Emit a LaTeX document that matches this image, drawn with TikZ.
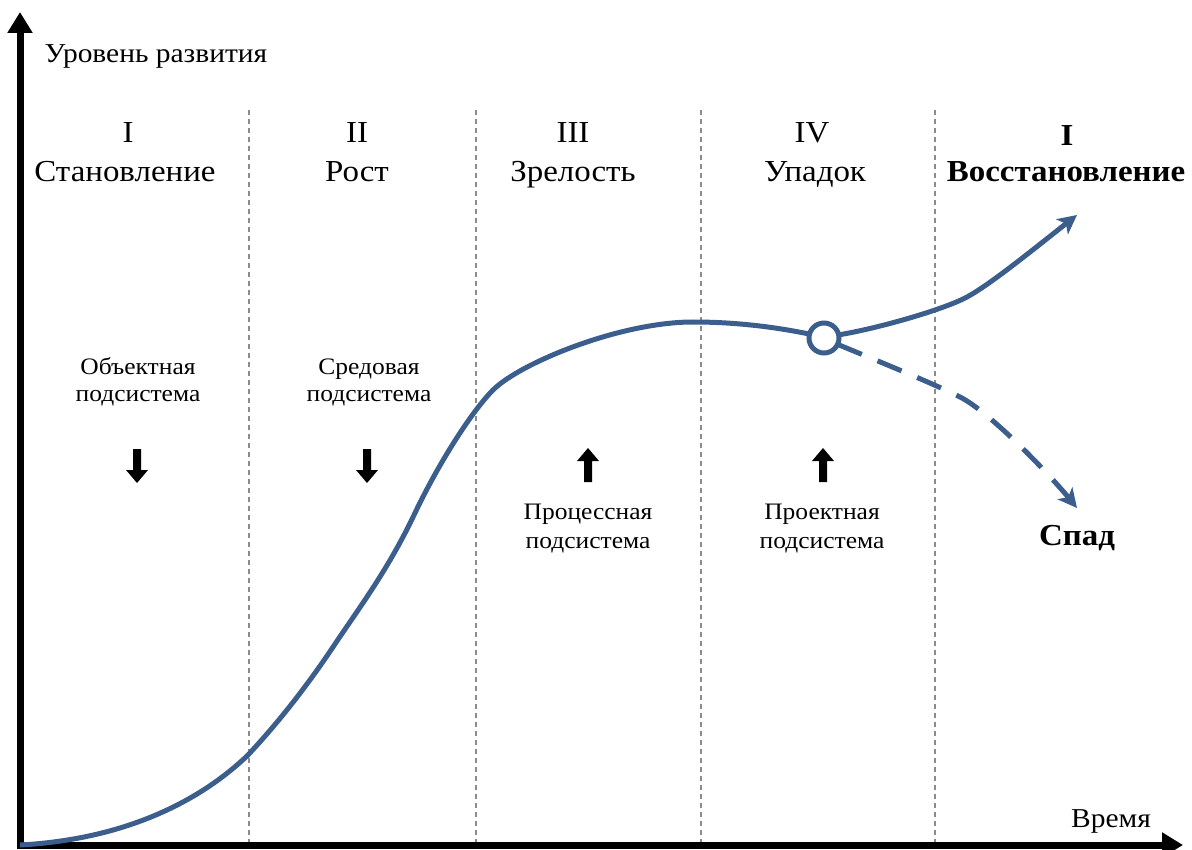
\documentclass[tikz,border=0pt]{standalone}
\usepackage{fontspec}
\setmainfont{Liberation Serif}
\newfontfamily\widefont[FakeStretch=1.08]{Liberation Serif}
\usetikzlibrary{arrows.meta}
\definecolor{curveblue}{RGB}{59,94,140}
\definecolor{gridgray}{RGB}{140,140,140}
\tikzset{
  axisline/.style={line width=7pt, line join=miter,
    {Triangle[length=21pt,width=24pt]}-{Triangle[length=21pt,width=24pt]}},
  stagesep/.style={gridgray, line width=1.3pt, dash pattern=on 5pt off 4pt},
  curve/.style={curveblue, line width=5pt, line cap=butt},
  curvetip/.style={-{Stealth[length=19pt,width=19pt,inset=5pt]}},
  axislabel/.style={anchor=base, inner sep=0pt, font=\widefont\fontsize{27.3}{32}\selectfont},
  stagelabel/.style={anchor=base, inner sep=0pt, font=\widefont\fontsize{30.5}{36}\selectfont},
  stagebold/.style={anchor=base, inner sep=0pt, font=\widefont\fontsize{30.5}{36}\selectfont\bfseries},
  sublabel/.style={anchor=base, inner sep=0pt, font=\widefont\fontsize{23.6}{28}\selectfont},
  downarrow/.pic={\fill (-4,-17) -- (4,-17) -- (4,4) -- (11,4) -- (0,17) -- (-11,4) -- (-4,4) -- cycle;},
  uparrow/.pic={\fill (-4,17) -- (4,17) -- (4,-4) -- (11,-4) -- (0,-17) -- (-11,-4) -- (-4,-4) -- cycle;}
}
\begin{document}
\begin{tikzpicture}[x=1pt,y=-1pt]
\useasboundingbox (0,0) rectangle (1192,850);

% stage boundaries
\foreach \sx/\nm in {249/a,476/b,701/c,935/d}{
  \coordinate (sep\nm top) at (\sx,110);
  \coordinate (sep\nm bot) at (\sx,842);
  \draw[stagesep] (sep\nm top) -- (sep\nm bot);
}

% axes
\coordinate (ytop) at (20,12);
\coordinate (origin) at (20,845);
\coordinate (xend) at (1183,845);
\draw[axisline] (ytop) -- (origin) -- (xend);
\node[axislabel] (ylab) at (156,63) {Уровень развития};
\node[axislabel] (xlab) at (1111,827) {Время};

% stage headings
\node[stagelabel] (n1) at (128,143) {I};
\node[stagelabel] (t1) at (125,182) {Становление};
\node[stagelabel] (n2) at (357,143) {II};
\node[stagelabel] (t2) at (357,182) {Рост};
\node[stagelabel] (n3) at (573,143) {III};
\node[stagelabel] (t3) at (573,182) {Зрелость};
\node[stagelabel] (n4) at (812,143) {IV};
\node[stagelabel] (t4) at (815,182) {Упадок};
\node[stagebold] (n5) at (1067,146) {I};
\node[stagebold] (t5) at (1066,182) {Восстановление};
\node[stagebold] (fall) at (1077,545) {Спад};

% subsystems
\node[sublabel] (s1a) at (138,374) {Объектная};
\node[sublabel] (s1b) at (138,402) {подсистема};
\node[sublabel] (s2a) at (369,374) {Средовая};
\node[sublabel] (s2b) at (369,402) {подсистема};
\node[sublabel] (s3a) at (588,519) {Процессная};
\node[sublabel] (s3b) at (588,548) {подсистема};
\node[sublabel] (s4a) at (822,519) {Проектная};
\node[sublabel] (s4b) at (822,548) {подсистема};
\pic at (137,466) {downarrow};
\pic at (367,466) {downarrow};
\pic at (588,465) {uparrow};
\pic at (823,465) {uparrow};

% development curve
\node[circle, minimum size=30pt, inner sep=0pt] (turn) at (824,338) {};
\path (turn.165) coordinate (turnin)
      (turn.12) coordinate (turnup)
      (turn.-25) coordinate (turndown);
\coordinate (uptip) at (1077,215);
\coordinate (downtip) at (1077,508);
\draw[curve] (origin) .. controls (150,838) and (220,782) .. (248,755)
  .. controls (276,725) and (305,689) .. (333,647)
  .. controls (360,606.5) and (388,570) .. (415,513)
  .. controls (440,460.5) and (473,410) .. (493,390)
  .. controls (520,363) and (620,322) .. (693,322)
  .. controls (740,322) and (780,328) .. (turnin);
\draw[curve, curvetip] (turnup) .. controls (880,328) and (945,309) .. (967,297)
  .. controls (990,284.5) and (1030,252) .. (uptip);
\draw[curve, curvetip, dash pattern=on 26pt off 17pt]
  (turndown) .. controls (880,362) and (930,382) .. (960,397)
  .. controls (990,412) and (1050,475) .. (downtip);
\node[circle, draw=curveblue, line width=5pt, fill=white, minimum size=30pt, inner sep=0pt]
  at (turn) {};
\end{tikzpicture}
\end{document}
